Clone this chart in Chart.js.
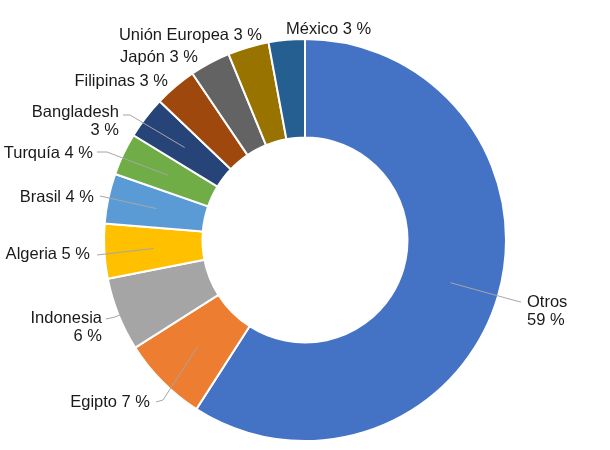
<!DOCTYPE html>
<html lang="es">
<head>
<meta charset="utf-8">
<script src="https://cdn.jsdelivr.net/npm/chart.js@4/dist/chart.umd.min.js"></script>
<style>
  html, body { margin: 0; padding: 0; background: #ffffff; }
  #contenedor { width: 610px; height: 450px; }
</style>
</head>
<body>
<div id="contenedor"><canvas id="grafico"></canvas></div>
<script>
// Datos (orden horario desde las 12)
const paises = ['Otros', 'Egipto', 'Indonesia', 'Algeria', 'Brasil', 'Turquía',
  'Bangladesh', 'Filipinas', 'Japón', 'Unión Europea', 'México'];
const participacion = [59.0, 6.9, 5.9, 4.4, 4.0, 3.4, 3.4, 3.4, 3.25, 3.3, 2.9];
const porcentajeEtiqueta = [59, 7, 6, 5, 4, 4, 3, 3, 3, 3, 3];
const colores = ['#4472C4', '#ED7D31', '#A5A5A5', '#FFC000', '#5B9BD5', '#70AD47',
  '#264478', '#9E480E', '#636363', '#997300', '#255E91'];

// Ubicación de cada etiqueta respecto al centro del anillo (estilo Excel).
// partido: nombre y porcentaje en dos renglones; codo/fin: puntos de la línea guía (null = sin línea)
const ubicacionEtiquetas = [
  { x: 222, y: 62, align: 'left', partido: true, codo: [208, 60], fin: [216, 62] },
  { x: -155, y: 162, align: 'right', partido: false, codo: [-142, 160], fin: [-149, 162] },
  { x: -203, y: 78, align: 'right', partido: true, codo: [-190, 77], fin: [-199, 79] },
  { x: -215, y: 14, align: 'right', partido: false, codo: [-208, 15], fin: [-208, 15] },
  { x: -211, y: -43, align: 'right', partido: false, codo: [-205, -44], fin: [-205, -44] },
  { x: -212, y: -87, align: 'right', partido: false, codo: [-198, -88], fin: [-208, -88] },
  { x: -186, y: -128, align: 'right', partido: true, codo: [-175, -125], fin: [-182, -125] },
  { x: -137, y: -159, align: 'right', partido: false, codo: null, fin: null },
  { x: -107, y: -183, align: 'right', partido: false, codo: null, fin: null },
  { x: -43, y: -205, align: 'right', partido: false, codo: null, fin: null },
  { x: -19, y: -211, align: 'left', partido: false, codo: null, fin: null },
];

const etiquetasExternas = {
  id: 'etiquetasExternas',
  afterDatasetsDraw(chart) {
    const ctx = chart.ctx;
    const arcos = chart.getDatasetMeta(0).data;
    ctx.save();
    ctx.font = '16.5px "Liberation Sans", Arial, sans-serif';
    ctx.fillStyle = '#1a1a1a';
    ctx.textBaseline = 'middle';
    arcos.forEach((arco, i) => {
      const cx = arco.x, cy = arco.y;
      const u = ubicacionEtiquetas[i];
      if (u.fin) {
        const p = arco.getCenterPoint();
        ctx.strokeStyle = '#A6A6A6';
        ctx.lineWidth = 1;
        ctx.beginPath();
        ctx.moveTo(p.x, p.y);
        ctx.lineTo(cx + u.codo[0], cy + u.codo[1]);
        ctx.lineTo(cx + u.fin[0], cy + u.fin[1]);
        ctx.stroke();
      }
      const pct = porcentajeEtiqueta[i] + ' %';
      const renglones = u.partido ? [paises[i], pct] : [paises[i] + ' ' + pct];
      ctx.textAlign = u.align;
      renglones.forEach((t, k) => {
        ctx.fillText(t, cx + u.x, cy + u.y + k * 18);
      });
    });
    ctx.restore();
  }
};

new Chart(document.getElementById('grafico'), {
  type: 'doughnut',
  data: {
    labels: paises,
    datasets: [{
      data: participacion,
      backgroundColor: colores,
      borderColor: '#ffffff',
      borderWidth: 2,
    }],
  },
  options: {
    responsive: true,
    maintainAspectRatio: false,
    animation: false,
    cutout: '51%',
    layout: { padding: { top: 38, bottom: 8, left: 0, right: 0 } },
    plugins: {
      legend: { display: false },
      tooltip: { enabled: false },
    },
  },
  plugins: [etiquetasExternas],
});
</script>
</body>
</html>
